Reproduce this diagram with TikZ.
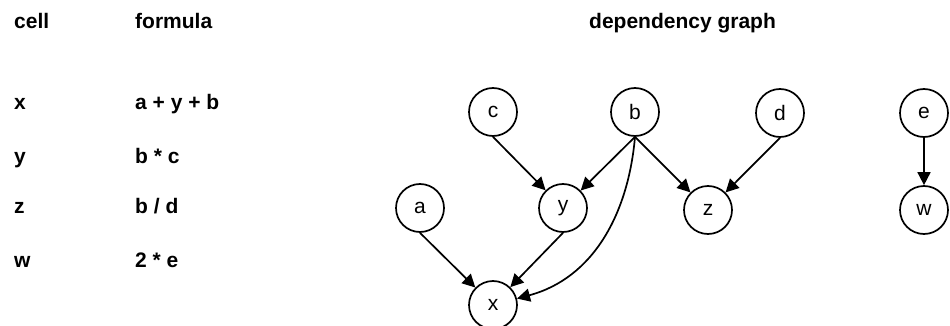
\documentclass[tikz,border=0pt]{standalone}
\usepackage{fontspec}
\setmainfont{Liberation Sans}
\usetikzlibrary{arrows.meta}
\begin{document}
\begin{tikzpicture}[x=1pt,y=-1pt,
  lbl/.style={anchor=base west,inner sep=0pt,font=\fontsize{21}{24}\selectfont\bfseries},
  vtx/.style={circle,draw,line width=1.7pt,minimum size=48pt,inner sep=0pt,font=\fontsize{21}{24}\selectfont},
  edge/.style={line width=1.7pt,-{Triangle[length=13pt,width=13pt]}}]
\path[use as bounding box] (0,0) rectangle (950,326);
% table
\node[lbl] (hcell) at (14,29) {cell};
\node[lbl] (hform) at (135,29) {formula};
\node[lbl] (hdep) at (589,29) {dependency graph};
\node[lbl] (cx) at (14,110) {x};
\node[lbl] (fx) at (135,110) {a + y + b};
\node[lbl] (cy) at (14,163) {y};
\node[lbl] (fy) at (135,163) {b * c};
\node[lbl] (cz) at (14,213) {z};
\node[lbl] (fz) at (135,213) {b / d};
\node[lbl] (cw) at (14,267) {w};
\node[lbl] (fw) at (135,267) {2 * e};
% graph
\node[vtx] (c) at (493,112) {c};
\node[vtx] (b) at (635,112) {b};
\node[vtx] (d) at (780,113) {d};
\node[vtx] (e) at (924,113) {e};
\node[vtx] (a) at (420,208) {a};
\node[vtx] (y) at (563,208) {y};
\node[vtx] (z) at (708,210) {z};
\node[vtx] (w) at (924,210) {w};
\node[vtx] (x) at (493,305) {x};
\draw[edge] (c.south) -- (y);
\draw[edge] (b.south) -- (y);
\draw[edge] (b.south) -- (z);
\draw[edge] (d.south) -- (z);
\draw[edge] (e.south) -- (w);
\draw[edge] (a.south) -- (x);
\draw[edge] (y.south) -- (x);
\draw[edge] (b.south) to[out=-95,in=15] (x);
\end{tikzpicture}
\end{document}
